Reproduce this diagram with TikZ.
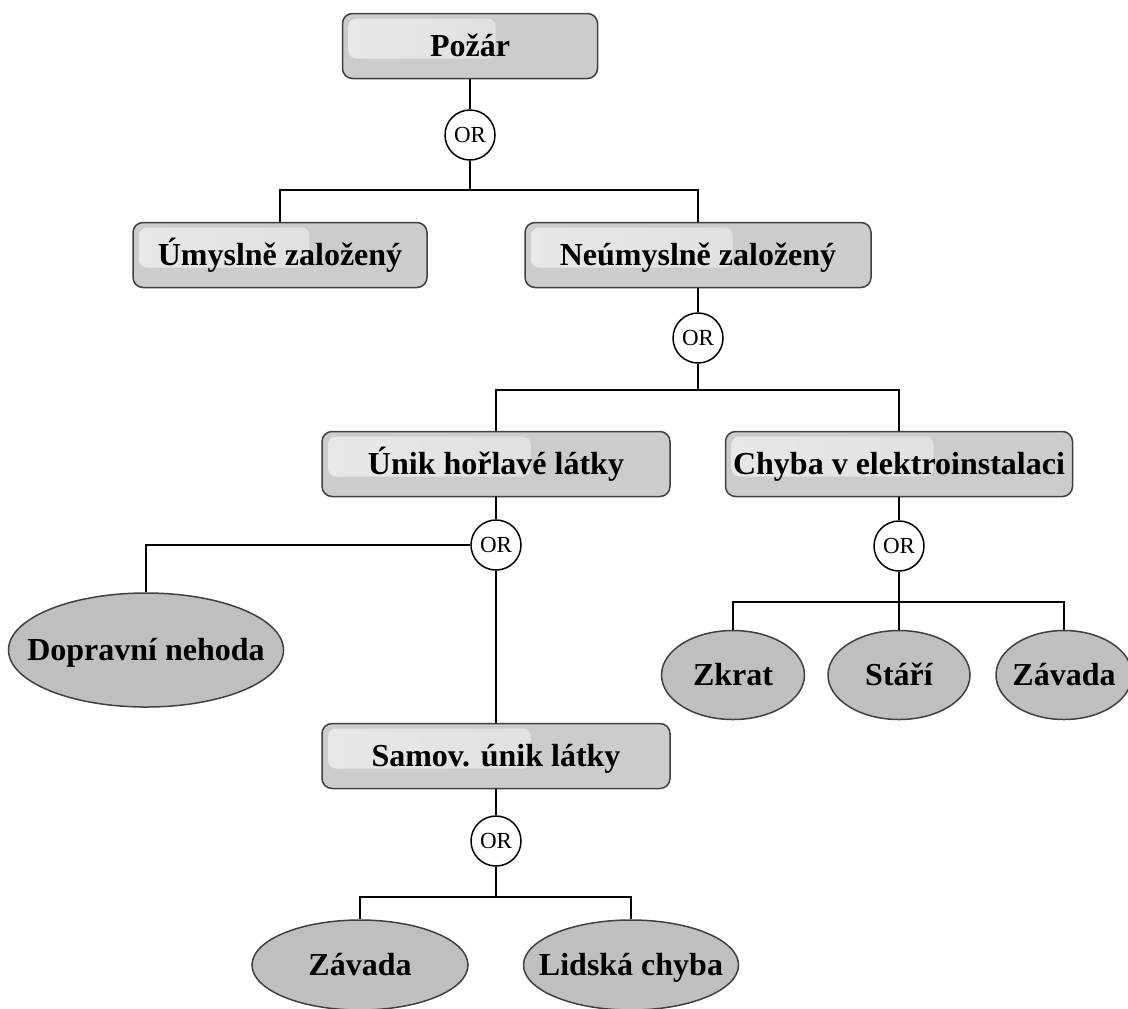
\documentclass[tikz,border=0pt]{standalone}
\usepackage{fontspec}
\setmainfont{Liberation Serif}
\usetikzlibrary{shapes.geometric,calc}

\begin{document}
\begin{tikzpicture}[x=0.5pt,y=-0.5pt,
    linea/.style={line width=0.9pt,black},
    caja/.style={draw=borde,line width=0.75pt,fill=cajagris,rounded corners=5pt,
        minimum height=32.5pt,inner sep=0pt,text height=11.5pt,text depth=1pt,
        font=\fontsize{16}{19}\selectfont\bfseries,
        path picture={\shade[left color=brillo,right color=brillo!55!cajagris,rounded corners=4pt]
            ([xshift=3pt,yshift=-2.5pt]path picture bounding box.north west) rectangle
            ($(path picture bounding box.south west)!0.6!(path picture bounding box.south east)+(0pt,10pt)$);}},
    elipse/.style={ellipse,draw=borde,line width=0.75pt,fill=elipsegris,inner sep=0pt,
        minimum height=44.5pt,text height=11.5pt,text depth=1pt,
        font=\fontsize{16}{19}\selectfont\bfseries,
        execute at begin node={\hbox to 0pt\bgroup\hss},execute at end node={\hss\egroup}},
    compuerta/.style={circle,draw=black,line width=0.75pt,fill=white,inner sep=0pt,
        minimum size=25pt,font=\fontsize{11.5}{13}\selectfont}]
        %colores
        \colorlet{cajagris}{gray!40}
        \colorlet{elipsegris}{gray!50}
        \colorlet{brillo}{gray!18}
        \colorlet{borde}{black!75}

        \useasboundingbox (0,0) rectangle (1128,1008);

        %cajas
        \node[caja,minimum width=127.5pt] (pozar) at (470,46) {Požár};
        \node[caja,minimum width=147pt] (umysl) at (280,255) {Úmyslně založený};
        \node[caja,minimum width=173pt] (neumysl) at (698,255) {Neúmyslně založený};
        \node[caja,minimum width=174pt] (unik) at (496,464) {Únik hořlavé látky};
        \node[caja,minimum width=173.5pt] (chyba) at (899,464) {Chyba v elektroinstalaci};
        \node[caja,minimum width=174pt] (samov) at (496,756) {Samov. únik látky};

        %compuertas
        \node[compuerta] (or1) at (470,135) {OR};
        \node[compuerta] (or2) at (698,338) {OR};
        \node[compuerta] (or3) at (496,545) {OR};
        \node[compuerta] (or4) at (496,841) {OR};
        \node[compuerta] (or5) at (899,546) {OR};

        %elipses
        \node[elipse,minimum width=137.5pt,minimum height=57pt] (doprav) at (146,650) {Dopravní nehoda};
        \foreach \n/\x/\w/\t in {zkrat/733/71.5/Zkrat, stari/899/71/Stáří, zavada/1064/68/Závada}
            \node[elipse,minimum width=\w pt] (\n) at (\x,675) {\t};
        \node[elipse,minimum width=108pt,minimum height=45pt] (zavadab) at (360,965) {Závada};
        \node[elipse,minimum width=107.5pt,minimum height=45pt] (lidska) at (631,965) {Lidská chyba};

        %ramas
        \coordinate (b1) at (470,190);
        \coordinate (b2) at (698,390);
        \coordinate (b4) at (496,897);
        \coordinate (b5) at (899,602);

        \draw[linea] (pozar) -- (or1);
        \draw[linea] (or1) -- (b1) -| (umysl);
        \draw[linea] (b1) -| (neumysl);
        \draw[linea] (neumysl) -- (or2);
        \draw[linea] (or2) -- (b2) -| (unik);
        \draw[linea] (b2) -| (chyba);
        \draw[linea] (unik) -- (or3);
        \draw[linea] (or3) -| (doprav);
        \draw[linea] (or3) -- (samov);
        \draw[linea] (samov) -- (or4);
        \draw[linea] (or4) -- (b4) -| (zavadab);
        \draw[linea] (b4) -| (lidska);
        \draw[linea] (chyba) -- (or5);
        \draw[linea] (or5) -- (b5) -| (zkrat);
        \draw[linea] (b5) -- (stari);
        \draw[linea] (b5) -| (zavada);
    \end{tikzpicture}
\end{document}
